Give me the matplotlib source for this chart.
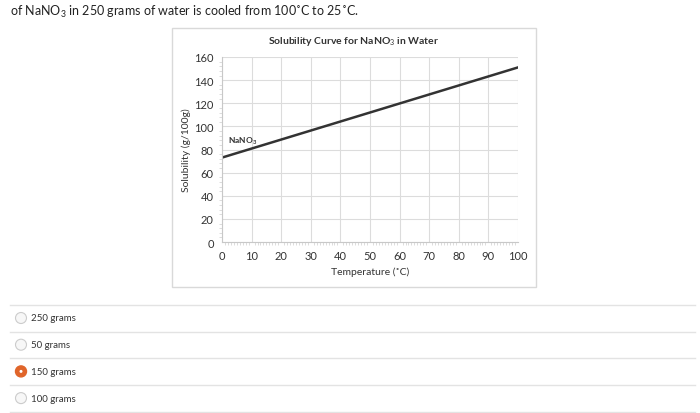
import matplotlib.pyplot as plt
from matplotlib.patches import Rectangle, Ellipse
from matplotlib.ticker import MultipleLocator

# data
temps = [0, 10, 20, 30, 40, 50, 60, 70, 80, 90, 100]
solubility = [73, 80.8, 88.6, 96.4, 104.2, 112, 119.8, 127.6, 135.4, 143.2, 151]
x_ticks = [0, 10, 20, 30, 40, 50, 60, 70, 80, 90, 100]
y_ticks = [0, 20, 40, 60, 80, 100, 120, 140, 160]

question = "of NaNO$_3$ in 250 grams of water is cooled from 100˚C to 25˚C."
options = ["250 grams", "50 grams", "150 grams", "100 grams"]
selected = 2

plt.rcParams['font.family'] = ['Lato', 'DejaVu Sans']
plt.rcParams['mathtext.fontset'] = 'custom'
plt.rcParams['mathtext.rm'] = 'Lato'
plt.rcParams['mathtext.bf'] = 'Lato:bold'

W, H = 700, 414
fig = plt.figure(figsize=(7, 4.14), dpi=100)


def fx(px):
    return px / W


def fy(py):
    return 1 - py / H


# question text
fig.text(fx(10), fy(12), question, fontsize=9, color='#222222', va='center', ha='left')

# chart frame
fig.patches.append(Rectangle((fx(172), fy(288)), fx(364), 259 / H, transform=fig.transFigure,
                             facecolor='white', edgecolor='#d9d9d9', lw=1, zorder=-5))
fig.text(fx(354), fy(41), 'Solubility Curve for NaNO$_3$ in Water', fontsize=7.5,
         fontweight='bold', color='#333333', ha='center', va='center')

ax = fig.add_axes([fx(222), fy(243), fx(296), 185 / H])
ax.patch.set_alpha(0)
ax.plot(temps, solubility, color='#333333', lw=1.8)
ax.set_xlim(0, 100)
ax.set_ylim(0, 160)
ax.set_xticks(x_ticks)
ax.set_yticks(y_ticks)
ax.xaxis.set_minor_locator(MultipleLocator(1))
ax.yaxis.set_minor_locator(MultipleLocator(4))
ax.grid(True, which='major', color='#dcdcdc', lw=0.8)
ax.set_axisbelow(True)
for side in ['top', 'right']:
    ax.spines[side].set_visible(False)
for side in ['left', 'bottom']:
    ax.spines[side].set_color('#c8c8c8')
ax.tick_params(which='major', length=0, labelsize=8, colors='#333333', pad=6)
ax.tick_params(which='minor', length=2, color='#cfcfcf', width=0.5)
ax.set_xlabel('Temperature (˚C)', fontsize=7.5, color='#333333', labelpad=4)
ax.set_ylabel('Solubility (g/100g)', fontsize=7.5, color='#333333', labelpad=2)
ax.text(2, 88, r'NaNO$_\mathbf{3}$', fontsize=6, fontweight='bold', color='#333333', va='center')

# answer options
sep_y = [306, 333, 359, 386, 413]
for y in sep_y:
    fig.lines.append(plt.Line2D([fx(10), fx(695)], [fy(y), fy(y)], transform=fig.transFigure,
                                color='#e3e3e3', lw=1))
for i, opt in enumerate(options):
    cy = 319 + i * 26.7
    if i == selected:
        fig.patches.append(Ellipse((fx(21), fy(cy)), 11 / W, 11 / H, transform=fig.transFigure,
                                   facecolor='#e0652a', edgecolor='#e0652a'))
        fig.patches.append(Ellipse((fx(21), fy(cy)), 3 / W, 3 / H, transform=fig.transFigure,
                                   facecolor='white', edgecolor='none'))
    else:
        fig.patches.append(Ellipse((fx(21), fy(cy)), 11 / W, 11 / H, transform=fig.transFigure,
                                   facecolor='#f7f7f7', edgecolor='#cccccc', lw=0.8))
    fig.text(fx(31), fy(cy), opt, fontsize=7, color='#333333', va='center', ha='left')

fig.savefig('out.png', dpi=100)
